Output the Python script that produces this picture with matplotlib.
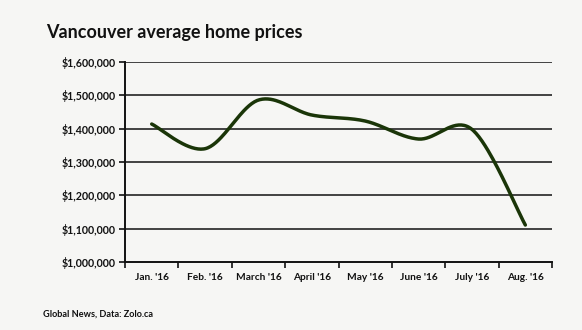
import numpy as np
import matplotlib
matplotlib.use("Agg")
import matplotlib.pyplot as plt
from matplotlib.ticker import FuncFormatter

months = ["Jan. '16", "Feb. '16", "March '16", "April '16",
          "May '16", "June '16", "July '16", "Aug. '16"]
prices = [1414000, 1340000, 1486000, 1441000,
          1423000, 1369000, 1398000, 1111000]
y_ticks = [1000000, 1100000, 1200000, 1300000, 1400000, 1500000, 1600000]


def smooth(xs, ys, n=40):
    """Catmull-Rom curve through the points, like a smoothed line series."""
    xs = np.asarray(xs, float)
    ys = np.asarray(ys, float)
    px = np.concatenate([[xs[0]], xs, [xs[-1]]])
    py = np.concatenate([[ys[0]], ys, [ys[-1]]])
    out_x, out_y = [], []
    for i in range(1, len(px) - 2):
        t = np.linspace(0, 1, n, endpoint=False)
        for arr, out in ((px, out_x), (py, out_y)):
            p0, p1, p2, p3 = arr[i - 1], arr[i], arr[i + 1], arr[i + 2]
            out.extend(0.5 * ((2 * p1) + (-p0 + p2) * t
                              + (2 * p0 - 5 * p1 + 4 * p2 - p3) * t ** 2
                              + (-p0 + 3 * p1 - 3 * p2 + p3) * t ** 3))
    out_x.append(xs[-1])
    out_y.append(ys[-1])
    return np.array(out_x), np.array(out_y)


plt.rcParams["font.family"] = ["Lato", "DejaVu Sans"]
bg = "#f6f6f4"
fig = plt.figure(figsize=(5.82, 3.30), dpi=100, facecolor=bg)
ax = fig.add_axes([0.2148, 0.206, 0.7337, 0.606], facecolor=bg)

x = np.arange(len(months))
sx, sy = smooth(x, prices)
ax.plot(sx, sy, color="#1a3508", lw=2.5, solid_capstyle="round", zorder=3)

ax.set_xlim(-0.5, len(months) - 0.5)
ax.set_ylim(y_ticks[0], y_ticks[-1])
ax.set_yticks(y_ticks)
ax.yaxis.set_major_formatter(FuncFormatter(lambda v, p: f"${v:,.0f}"))
ax.set_xticks(x)
ax.set_xticklabels(months)
ax.set_xticks(np.arange(-0.5, len(months)), minor=True)

for v in y_ticks[1:]:
    ax.axhline(v, color="#111111", lw=1.1, zorder=1)

for side in ("top", "right"):
    ax.spines[side].set_visible(False)
for side in ("left", "bottom"):
    ax.spines[side].set_linewidth(1.4)
    ax.spines[side].set_color("#111111")

ax.tick_params(axis="x", which="major", length=0, pad=8,
               labelsize=7.3, colors="#111111")
ax.tick_params(axis="x", which="minor", length=4, width=1.2,
               direction="out", color="#111111")
ax.tick_params(axis="y", length=4, width=1.2, direction="out",
               labelsize=7.7, pad=3, colors="#111111")
for lab in ax.get_xticklabels() + ax.get_yticklabels():
    lab.set_fontweight("bold")

fig.text(0.079, 0.885, "Vancouver average home prices", fontsize=13,
         fontweight="bold", color="#111111", ha="left", va="baseline")
fig.text(0.074, 0.042, "Global News, Data: Zolo.ca", fontsize=6.6,
         fontweight="bold", color="#111111", ha="left", va="baseline")

fig.savefig("out.png", dpi=100, facecolor=bg)
